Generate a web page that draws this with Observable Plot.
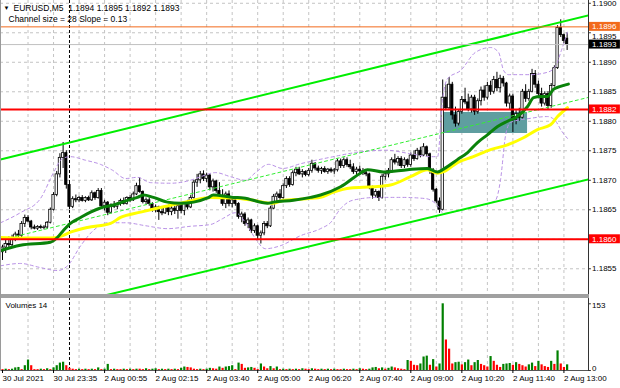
<!DOCTYPE html>
<html><head><meta charset="utf-8">
<script src="https://cdn.jsdelivr.net/npm/d3@7"></script>
<script src="https://cdn.jsdelivr.net/npm/@observablehq/plot@0.6"></script>
<style>
body{margin:0;background:#fff;}
#wrap{position:relative;width:620px;height:388px;overflow:hidden;background:#fff;}
#wrap svg{display:block;overflow:visible;}
#sep{width:589px;height:4px;background:#a0a0a0;}
#lb{position:absolute;left:0;top:0;width:1px;height:371px;background:#9a9a9a;}
</style></head><body>
<div id="wrap"><div id="main"></div><div id="sep"></div><div id="vol"></div><div id="lb"></div></div>
<script>
// ---------- DATA ----------
const headerTitle = "EURUSD,M5  1.1894 1.1895 1.1892 1.1893";
const channelInfo = "Channel size = 28 Slope = 0.13";
const volumeTitle = "Volumes 14";

const opens = [1.18578,1.18586,1.18592,1.18590,1.18602,1.18608,1.18606,1.18626,1.18636,1.18630,
1.18620,1.18618,1.18621,1.18619,1.18620,1.18628,1.18650,1.18675,1.18710,1.18738,
1.18746,1.18692,1.18655,1.18668,1.18666,1.18670,1.18665,1.18670,1.18666,1.18678,
1.18670,1.18682,1.18656,1.18662,1.18645,1.18657,1.18655,1.18660,1.18665,1.18660,
1.18670,1.18666,1.18676,1.18690,1.18680,1.18663,1.18666,1.18660,1.18649,1.18654,
1.18646,1.18644,1.18653,1.18646,1.18652,1.18648,1.18656,1.18648,1.18660,1.18654,
1.18670,1.18696,1.18700,1.18710,1.18702,1.18708,1.18688,1.18698,1.18682,1.18672,
1.18660,1.18676,1.18660,1.18666,1.18660,1.18638,1.18642,1.18626,1.18632,1.18614,
1.18622,1.18606,1.18610,1.18626,1.18622,1.18652,1.18672,1.18676,1.18670,1.18690,
1.18702,1.18692,1.18712,1.18718,1.18710,1.18714,1.18709,1.18716,1.18728,1.18720,
1.18716,1.18719,1.18714,1.18718,1.18715,1.18717,1.18732,1.18724,1.18734,1.18726,
1.18722,1.18714,1.18718,1.18715,1.18712,1.18710,1.18688,1.18674,1.18680,1.18670,
1.18706,1.18710,1.18716,1.18734,1.18730,1.18736,1.18724,1.18734,1.18726,1.18742,
1.18736,1.18750,1.18742,1.18756,1.18744,1.18716,1.18684,1.18664,1.18650,1.18840,
1.18822,1.18862,1.18810,1.18796,1.18816,1.18836,1.18832,1.18820,1.18840,1.18816,
1.18834,1.18852,1.18840,1.18860,1.18850,1.18870,1.18856,1.18872,1.18864,1.18830,
1.18842,1.18802,1.18812,1.18806,1.18850,1.18838,1.18850,1.18880,1.18862,1.18846,
1.18830,1.18846,1.18826,1.18860,1.18890,1.18958,1.18946,1.18940];
const highs = [1.18590,1.18598,1.18604,1.18607,1.18612,1.18615,1.18630,1.18641,1.18640,1.18632,
1.18624,1.18623,1.18624,1.18623,1.18630,1.18653,1.18679,1.18715,1.18745,1.18764,
1.18750,1.18695,1.18672,1.18675,1.18673,1.18674,1.18672,1.18673,1.18682,1.18680,
1.18686,1.18686,1.18666,1.18664,1.18660,1.18664,1.18662,1.18668,1.18670,1.18672,
1.18674,1.18680,1.18695,1.18704,1.18682,1.18670,1.18670,1.18662,1.18658,1.18656,
1.18652,1.18656,1.18658,1.18656,1.18656,1.18660,1.18662,1.18664,1.18666,1.18674,
1.18700,1.18710,1.18715,1.18716,1.18712,1.18710,1.18702,1.18700,1.18696,1.18684,
1.18680,1.18682,1.18670,1.18670,1.18662,1.18646,1.18645,1.18636,1.18634,1.18626,
1.18624,1.18614,1.18630,1.18630,1.18656,1.18676,1.18680,1.18684,1.18694,1.18706,
1.18706,1.18716,1.18722,1.18722,1.18718,1.18716,1.18720,1.18734,1.18730,1.18724,
1.18722,1.18723,1.18720,1.18721,1.18720,1.18736,1.18736,1.18738,1.18738,1.18734,
1.18728,1.18722,1.18724,1.18720,1.18718,1.18712,1.18690,1.18684,1.18682,1.18710,
1.18714,1.18720,1.18738,1.18744,1.18740,1.18740,1.18738,1.18736,1.18746,1.18750,
1.18754,1.18756,1.18762,1.18758,1.18746,1.18720,1.18686,1.18670,1.18870,1.18862,
1.18874,1.18866,1.18824,1.18820,1.18842,1.18856,1.18846,1.18844,1.18844,1.18838,
1.18858,1.18860,1.18866,1.18868,1.18876,1.18883,1.18878,1.18876,1.18866,1.18846,
1.18846,1.18818,1.18822,1.18854,1.18862,1.18854,1.18888,1.18886,1.18868,1.18856,
1.18850,1.18850,1.18864,1.18894,1.18962,1.18972,1.18948,1.18950];
const lows = [1.18564,1.18576,1.18584,1.18586,1.18596,1.18602,1.18602,1.18620,1.18628,1.18616,
1.18616,1.18615,1.18617,1.18616,1.18617,1.18626,1.18648,1.18672,1.18704,1.18720,
1.18685,1.18650,1.18652,1.18662,1.18662,1.18663,1.18662,1.18664,1.18664,1.18666,
1.18668,1.18652,1.18648,1.18640,1.18643,1.18652,1.18650,1.18656,1.18658,1.18658,
1.18662,1.18664,1.18674,1.18678,1.18660,1.18658,1.18656,1.18646,1.18645,1.18632,
1.18640,1.18642,1.18640,1.18640,1.18642,1.18634,1.18643,1.18640,1.18650,1.18652,
1.18668,1.18688,1.18694,1.18698,1.18696,1.18682,1.18680,1.18678,1.18668,1.18656,
1.18652,1.18655,1.18653,1.18656,1.18634,1.18628,1.18622,1.18618,1.18610,1.18610,
1.18598,1.18592,1.18606,1.18618,1.18620,1.18650,1.18664,1.18666,1.18668,1.18686,
1.18688,1.18690,1.18706,1.18708,1.18704,1.18706,1.18706,1.18712,1.18716,1.18712,
1.18710,1.18712,1.18710,1.18712,1.18710,1.18714,1.18720,1.18720,1.18722,1.18718,
1.18710,1.18708,1.18712,1.18708,1.18706,1.18684,1.18668,1.18670,1.18664,1.18668,
1.18700,1.18704,1.18712,1.18726,1.18724,1.18720,1.18720,1.18722,1.18722,1.18732,
1.18734,1.18738,1.18740,1.18740,1.18710,1.18680,1.18660,1.18644,1.18648,1.18818,
1.18820,1.18802,1.18790,1.18792,1.18812,1.18828,1.18816,1.18814,1.18810,1.18812,
1.18826,1.18834,1.18836,1.18844,1.18846,1.18850,1.18848,1.18858,1.18824,1.18820,
1.18781,1.18794,1.18800,1.18804,1.18832,1.18834,1.18848,1.18856,1.18840,1.18824,
1.18826,1.18820,1.18822,1.18858,1.18888,1.18942,1.18932,1.18920];
const closes = [1.18586,1.18592,1.18590,1.18602,1.18608,1.18606,1.18626,1.18636,1.18630,1.18620,
1.18618,1.18621,1.18619,1.18620,1.18628,1.18650,1.18675,1.18710,1.18738,1.18746,
1.18692,1.18655,1.18668,1.18666,1.18670,1.18665,1.18670,1.18666,1.18678,1.18670,
1.18682,1.18656,1.18662,1.18645,1.18657,1.18655,1.18660,1.18665,1.18660,1.18670,
1.18666,1.18676,1.18690,1.18680,1.18663,1.18666,1.18660,1.18649,1.18654,1.18646,
1.18644,1.18653,1.18646,1.18652,1.18648,1.18656,1.18648,1.18660,1.18654,1.18670,
1.18696,1.18700,1.18710,1.18702,1.18708,1.18688,1.18698,1.18682,1.18672,1.18660,
1.18676,1.18660,1.18666,1.18660,1.18638,1.18642,1.18626,1.18632,1.18614,1.18622,
1.18606,1.18610,1.18626,1.18622,1.18652,1.18672,1.18676,1.18670,1.18690,1.18702,
1.18692,1.18712,1.18718,1.18710,1.18714,1.18709,1.18716,1.18728,1.18720,1.18716,
1.18719,1.18714,1.18718,1.18715,1.18717,1.18732,1.18724,1.18734,1.18726,1.18722,
1.18714,1.18718,1.18715,1.18712,1.18710,1.18688,1.18674,1.18680,1.18670,1.18706,
1.18710,1.18716,1.18734,1.18730,1.18736,1.18724,1.18734,1.18726,1.18742,1.18736,
1.18750,1.18742,1.18756,1.18744,1.18716,1.18684,1.18664,1.18650,1.18840,1.18822,
1.18862,1.18810,1.18796,1.18816,1.18836,1.18832,1.18820,1.18840,1.18816,1.18834,
1.18852,1.18840,1.18860,1.18850,1.18870,1.18856,1.18872,1.18864,1.18830,1.18842,
1.18802,1.18812,1.18806,1.18850,1.18838,1.18850,1.18880,1.18862,1.18846,1.18830,
1.18846,1.18826,1.18860,1.18890,1.18958,1.18946,1.18936,1.18930];
const volumes = [2,3,2,3,6,7,2,11,24,11,
2,2,3,2,4,2,6,11,17,19,
11,5,3,2,3,2,3,2,3,2,
6,2,3,14,2,3,2,2,3,2,
3,2,3,3,2,4,2,3,4,2,
3,2,3,2,3,2,5,8,7,6,
3,2,3,2,3,5,4,3,8,5,
8,9,11,2,17,14,5,6,7,5,
2,15,8,4,9,4,8,2,3,2,
3,2,3,2,4,3,2,4,3,2,
3,2,3,2,3,2,2,3,2,2,
3,2,4,3,2,3,6,7,4,6,
3,5,8,6,4,3,2,23,21,12,
11,15,31,33,12,25,8,15,153,70,
49,15,18,19,13,18,24,11,18,23,
14,11,8,32,21,12,7,14,15,16,
12,18,14,11,8,13,17,9,21,13,
9,7,21,14,45,15,7,13];

const maGreenBars = [-0.6,5.6,15,17.2,19.1,21.3,24.5,27.6,30.7,34.8,39.2,42.3,44.2,47.3,51.7,55.8,59.9,64.3,66.1,72.4,75.5,83.1,85,91.2,96.6,99.7,106,112.2,114.4,119.4,127,133.2,136.4,138.9,142.6,145.8,148.9,152,155.2,158.3,161.4,164.6,166.5,168.7,170.8,172.7,174.9,177.4];
const maGreenValues = [1.18581,1.18590,1.18595,1.18603,1.18615,1.18627,1.18637,1.18646,1.18653,1.18658,1.18666,1.18671,1.18675,1.18671,1.18663,1.18661,1.18663,1.18670,1.18675,1.18671,1.18670,1.18661,1.18663,1.18666,1.18671,1.18675,1.18689,1.18712,1.18718,1.18714,1.18718,1.18720,1.18714,1.18721,1.18735,1.18747,1.18764,1.18777,1.18791,1.18800,1.18808,1.18825,1.18840,1.18842,1.18842,1.18854,1.18859,1.18863];
const maYellowBars = [-0.6,5.6,15,18.2,21.3,26.6,33.9,37,43.3,49.5,55.8,59.9,65.2,72.4,78.7,84.6,88.1,93.4,99.7,103.8,109.1,116.3,121.6,127.9,133.2,136.4,138.9,142.6,147.6,153,158.3,163.3,167.7,171.8,174,177.1];
const maYellowValues = [1.18603,1.18602,1.18602,1.18605,1.18612,1.18620,1.18627,1.18637,1.18646,1.18654,1.18661,1.18666,1.18671,1.18670,1.18666,1.18661,1.18666,1.18668,1.18671,1.18680,1.18687,1.18689,1.18692,1.18706,1.18718,1.18712,1.18716,1.18730,1.18740,1.18752,1.18760,1.18772,1.18786,1.18794,1.18808,1.18823];
const bbUpperBars = [-0.6,5.6,11.9,16,18.8,21.3,26,30.7,34.5,38.6,42.3,46.4,52.7,58.9,62.1,66.8,71.5,76.2,79.3,83.4,87.8,93.4,102.8,110.7,120.1,127.9,134.2,136.4,137.9,139.5,143.6,148.3,153,155.5,157.1,158.6,165.5,170.8,173.3,175.2,177.1];
const bbUpperValues = [1.18628,1.18645,1.18669,1.18713,1.18737,1.18740,1.18734,1.18727,1.18717,1.18703,1.18705,1.18696,1.18695,1.18700,1.18706,1.18713,1.18706,1.18700,1.18713,1.18727,1.18720,1.18728,1.18739,1.18747,1.18751,1.18745,1.18740,1.18740,1.18835,1.18872,1.18886,1.18917,1.18925,1.18917,1.18886,1.18879,1.18879,1.18883,1.18893,1.18920,1.18951];
const bbLowerBars = [-0.6,5.6,11.9,17.2,20.4,24.5,28.5,32.9,38.6,44.8,51.7,58.9,65.2,69,73,76.2,79.3,82.4,87.1,93.4,99.7,102.8,106,109.7,117.6,124.8,132.6,136.4,138.2,143.6,149.8,154.5,156.1,157.7,159.2,165.5,170.8,173.3,175.2,177.1];
const bbLowerValues = [1.18555,1.18559,1.18552,1.18547,1.18555,1.18589,1.18615,1.18628,1.18628,1.18623,1.18618,1.18622,1.18625,1.18635,1.18645,1.18628,1.18601,1.18584,1.18589,1.18606,1.18618,1.18628,1.18652,1.18666,1.18671,1.18671,1.18669,1.18657,1.18644,1.18649,1.18657,1.18666,1.18700,1.18776,1.18798,1.18805,1.18808,1.18801,1.18784,1.18771];

const channelUpperBars = [-0.63, 183.7];
const channelUpperValues = [1.187353, 1.189795];
const channelLowerBars = [-0.63, 183.7];
const channelLowerValues = [1.184624, 1.187015];
const channelMidBars = [4.08, 183.7];
const channelMidValues = [1.186049, 1.188405];

const zoneBars = [138.2, 164.6];
const zoneValues = [1.188149, 1.187793];

const redLevels = [1.1882, 1.1860];
const redLabels = ["1.1882", "1.1860"];
const orangeLevel = 1.1896;
const orangeLabel = "1.1896";
const bidLevel = 1.1893;
const bidLabel = "1.1893";

const priceTicks = [1.1855,1.1860,1.1865,1.1870,1.1875,1.1880,1.1885,1.1890,1.1895,1.1900];
const priceTickLabels = ["1.1855","","1.1865","1.1870","1.1875","1.1880","1.1885","1.1890","1.1895","1.1900"];
const gridBars = [8,16,24,32,40,48,56,64,72,80,88,96,104,112,120,128,136,144,152,160,168,176];
const daySeparatorBar = 21;
const timeLabelBars = [0,16,32,48,64,80,96,112,128,144,160,176];
const timeLabels = ["30 Jul 2021","30 Jul 23:35","2 Aug 00:55","2 Aug 02:15","2 Aug 03:40","2 Aug 05:00","2 Aug 06:20","2 Aug 07:40","2 Aug 09:00","2 Aug 10:20","2 Aug 11:40","2 Aug 13:00"];
const volumeTicks = [0, 153];

// ---------- BUILD ----------
const FONT = '"Liberation Sans", Arial, sans-serif';
const XDOM = [-0.627, 183.7];
const XR = 183.7, XEND = 193.7, XLAB = 184.8;
const candles = opens.map((o, i) => ({i, o, h: highs[i], l: lows[i], c: closes[i]}));
const pts = (bs, vs) => bs.map((b, k) => ({b, p: vs[k]}));
const zone = {b1: zoneBars[0], b2: zoneBars[1], p1: zoneValues[0], p2: zoneValues[1]};
const boxH = 0.000076;
const redLv = redLevels.map((p, k) => ({p, t: redLabels[k]}));
const tickLab = priceTicks.map((p, k) => ({p, t: priceTickLabels[k]})).filter(d => d.t !== "");
const tickLabMain = tickLab.filter(d => d.t !== "1.1895");
const tickLabShift = tickLab.filter(d => d.t === "1.1895");

const main = Plot.plot({
  width: 620, height: 294,
  marginLeft: 0, marginRight: 32, marginTop: 0, marginBottom: 0,
  style: {fontFamily: FONT, fontSize: "8px", background: "#fff", overflow: "visible"},
  x: {domain: XDOM, axis: null},
  y: {domain: [1.185064, 1.190047], axis: null},
  marks: [
    Plot.ruleY(priceTicks, {stroke: "#c4c4c4", strokeDasharray: "3,3"}),
    Plot.ruleX(gridBars, {stroke: "#c4c4c4", strokeDasharray: "3,3"}),
    Plot.rect([zone], {x1: "b1", x2: "b2", y1: "p1", y2: "p2", fill: "#5f9ea0"}),
    Plot.ruleX([daySeparatorBar], {stroke: "#000", strokeDasharray: "3,2"}),
    Plot.ruleX(candles, {x: "i", y1: "l", y2: "h", stroke: "#000", strokeWidth: 1}),
    Plot.rect(candles, {x1: d => d.i - 0.36, x2: d => d.i + 0.36, y1: "o", y2: "c",
      fill: d => d.c >= d.o ? "#ffffff" : "#000000", stroke: "#000", strokeWidth: 0.8}),
    Plot.line(pts(bbUpperBars, bbUpperValues), {x: "b", y: "p", stroke: "#b890e6", strokeWidth: 1, strokeDasharray: "3,3", curve: "monotone-x"}),
    Plot.line(pts(bbLowerBars, bbLowerValues), {x: "b", y: "p", stroke: "#b890e6", strokeWidth: 1, strokeDasharray: "3,3", curve: "monotone-x"}),
    Plot.line(pts(channelMidBars, channelMidValues), {x: "b", y: "p", stroke: "#33ee33", strokeWidth: 1, strokeDasharray: "3,3"}),
    Plot.line(pts(maYellowBars, maYellowValues), {x: "b", y: "p", stroke: "#ffff00", strokeWidth: 3, curve: "monotone-x"}),
    Plot.line(pts(maGreenBars, maGreenValues), {x: "b", y: "p", stroke: "#0a820a", strokeWidth: 3, curve: "monotone-x"}),
    Plot.line(pts(channelUpperBars, channelUpperValues), {x: "b", y: "p", stroke: "#00ee00", strokeWidth: 2, clip: true}),
    Plot.line(pts(channelLowerBars, channelLowerValues), {x: "b", y: "p", stroke: "#00ee00", strokeWidth: 2, clip: true}),
    Plot.ruleY([bidLevel], {stroke: "#c0c0c0", strokeWidth: 1}),
    Plot.ruleY([orangeLevel], {stroke: "#f26a1b", strokeWidth: 1}),
    Plot.ruleY(redLevels, {stroke: "#ff0000", strokeWidth: 2}),
    Plot.ruleX([XR], {stroke: "#333"}),
    // right price scale: ticks and labels
    Plot.ruleY(priceTicks, {x1: XR, x2: XR + 0.9, stroke: "#333"}),
    Plot.text(tickLabMain, {x: XLAB, y: "p", text: "t", textAnchor: "start", fontSize: 8, fill: "#000"}),
    Plot.text(tickLabShift, {x: XLAB, y: "p", text: "t", textAnchor: "start", fontSize: 8, fill: "#000", dy: 3.5}),
    // right price boxes
    Plot.rect([orangeLevel], {x1: XR + 0.3, x2: XEND, y1: d => d - boxH, y2: d => d + boxH, fill: "#f26a1b"}),
    Plot.text([orangeLabel], {x: XLAB, y: orangeLevel, text: d => d, fill: "#fff", textAnchor: "start", fontSize: 8, dy: -0.5}),
    Plot.rect([bidLevel], {x1: XR + 0.3, x2: XEND, y1: d => d - boxH, y2: d => d + boxH, fill: "#000"}),
    Plot.text([bidLabel], {x: XLAB, y: bidLevel, text: d => d, fill: "#fff", textAnchor: "start", fontSize: 8}),
    Plot.rect(redLevels, {x1: XR + 0.3, x2: XEND, y1: d => d - boxH, y2: d => d + boxH, fill: "#ff0000"}),
    Plot.text(redLv, {x: XLAB, y: "p", text: "t", fill: "#fff", textAnchor: "start", fontSize: 8}),
    // header
    Plot.text(["\u25BC"], {frameAnchor: "top-left", dx: 3, dy: 5, fontSize: 6, fill: "#000"}),
    Plot.text([headerTitle], {frameAnchor: "top-left", dx: 13, dy: 4, fontSize: 8.5, fill: "#000"}),
    Plot.text([channelInfo], {frameAnchor: "top-left", dx: 8, dy: 15, fontSize: 8.5, fill: "#000"})
  ]
});
document.getElementById("main").appendChild(main);

const labelMap = new Map(timeLabelBars.map((b, k) => [b, timeLabels[k]]));
const vols = volumes.map((v, i) => ({i, v, up: i > 0 && v > volumes[i - 1]}));
const vol = Plot.plot({
  width: 620, height: 90,
  marginLeft: 0, marginRight: 32, marginTop: 5.3, marginBottom: 18,
  style: {fontFamily: FONT, fontSize: "8px", background: "#fff", overflow: "visible"},
  x: {domain: XDOM},
  y: {domain: [0, 153], axis: null},
  marks: [
    Plot.ruleX(gridBars, {y1: 0, y2: 165, stroke: "#c4c4c4", strokeDasharray: "3,3"}),
    Plot.ruleX([daySeparatorBar], {y1: 0, y2: 165, stroke: "#000", strokeDasharray: "3,2"}),
    Plot.ruleX(vols, {x: "i", y1: 0, y2: "v", stroke: d => d.up ? "#008000" : "#ff0000", strokeWidth: 2.2}),
    Plot.ruleY([0], {stroke: "#555"}),
    Plot.ruleX([XR], {y1: -2, y2: 165, stroke: "#333"}),
    Plot.axisX(timeLabelBars, {anchor: "bottom", tickSize: 3, tickPadding: 2, textAnchor: "start",
      tickFormat: d => labelMap.get(d), fontSize: 8, label: null, fill: "#000"}),
    Plot.ruleY(volumeTicks, {x1: XR, x2: XR + 0.9, stroke: "#333"}),
    Plot.text([volumeTicks[1]], {x: XLAB, y: d => d, text: d => String(d), textAnchor: "start", lineAnchor: "top", dy: -1, fontSize: 8, fill: "#000"}),
    Plot.text([volumeTicks[0]], {x: XLAB, y: d => d, text: d => String(d), textAnchor: "start", lineAnchor: "bottom", fontSize: 8, fill: "#000"}),
    Plot.text([volumeTitle], {frameAnchor: "top-left", dx: 5, dy: -1, fontSize: 8, fill: "#000"})
  ]
});
document.getElementById("vol").appendChild(vol);
</script>
</body></html>
